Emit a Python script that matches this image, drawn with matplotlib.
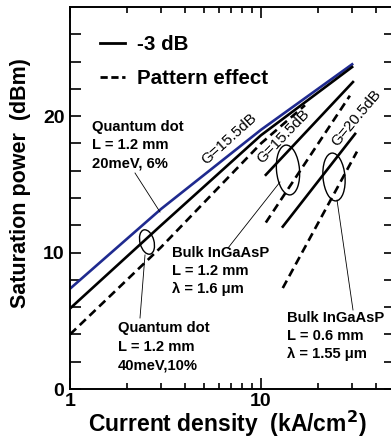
import matplotlib
matplotlib.use("Agg")
import matplotlib.pyplot as plt
from matplotlib.lines import Line2D
from matplotlib.patches import Ellipse
from matplotlib.ticker import FixedLocator, NullFormatter

plt.rcParams['font.family'] = ['Liberation Sans', 'DejaVu Sans']
plt.rcParams['font.weight'] = 'bold'

# Quantum dot, L = 1.2 mm, 20 meV 6% (-3 dB)
qd20_x = [1, 3, 10, 30]
qd20_y = [7.35, 13.2, 19.0, 23.8]
# Quantum dot, L = 1.2 mm, 40 meV 10% (-3 dB and pattern effect)
qd40_x = [1, 3, 10, 30]
qd40_y = [5.9, 12.0, 18.6, 23.6]
qd40_pe_x = [1, 3, 10, 17]
qd40_pe_y = [4.0, 10.4, 18.0, 20.8]
# Bulk InGaAsP, L = 1.2 mm
bulk12_x = [10.6, 30.3]
bulk12_y = [15.7, 22.5]
bulk12_pe_x = [10.6, 29.2]
bulk12_pe_y = [12.2, 21.5]
# Bulk InGaAsP, L = 0.6 mm
bulk06_x = [13.0, 31.1]
bulk06_y = [11.9, 18.7]
bulk06_pe_x = [13.0, 31.8]
bulk06_pe_y = [7.4, 17.4]

W, H = 391, 443
fig = plt.figure(figsize=(W / 100, H / 100), dpi=100)
ax = fig.add_axes([70 / W, (H - 389) / H, 324.5 / W, 382 / H])

lw = 1.9
dash = (3.2, 1.9)
ax.plot(qd20_x, qd20_y, color='#1f2a8f', lw=lw)
ax.plot(qd40_x, qd40_y, color='black', lw=lw)
ax.plot(qd40_pe_x, qd40_pe_y, color='black', lw=lw, ls=(0, dash))
ax.plot(bulk12_x, bulk12_y, color='black', lw=lw)
ax.plot(bulk12_pe_x, bulk12_pe_y, color='black', lw=lw, ls=(0, dash))
ax.plot(bulk06_x, bulk06_y, color='black', lw=lw)
ax.plot(bulk06_pe_x, bulk06_pe_y, color='black', lw=lw, ls=(0, dash))

ax.set_xscale('log')
ax.set_xlim(1, 50)
ax.set_ylim(0, 28)
ax.set_xticks([1, 10])
ax.set_xticklabels(['1', '10'])
ax.xaxis.set_minor_locator(FixedLocator([2, 3, 4, 5, 6, 7, 8, 9, 20, 30, 40]))
ax.xaxis.set_minor_formatter(NullFormatter())
ax.set_yticks([0, 10, 20])
ax.yaxis.set_minor_locator(FixedLocator([2, 4, 6, 8, 12, 14, 16, 18, 22, 24, 26]))
ax.tick_params(which='both', direction='in', top=True, right=True, width=1.2,
               labelsize=14)
ax.tick_params(axis='x', which='major', length=8, pad=3)
ax.tick_params(axis='x', which='minor', length=4.5)
ax.tick_params(axis='y', which='both', length=8, pad=4)
for lab in ax.get_xticklabels() + ax.get_yticklabels():
    lab.set_fontweight('bold')
for s in ax.spines.values():
    s.set_linewidth(1.4)

ax.set_xlabel('Current density  (kA/cm$^\\mathbf{2}$)', fontsize=16.5, fontweight='bold')
ax.xaxis.set_label_coords(0.484, -0.052)
ax.set_ylabel('Saturation power  (dBm)', fontsize=15.5, fontweight='bold')
ax.yaxis.set_label_coords(-0.12, 0.539)

handles = [Line2D([], [], color='black', lw=2),
           Line2D([], [], color='black', lw=2, ls=(0, (2.6, 1.3)))]
ax.legend(handles, ['-3 dB', 'Pattern effect'], loc='upper left', frameon=False,
          bbox_to_anchor=(0.068, 0.948), prop={'size': 14.8, 'weight': 'bold'},
          handlelength=1.22, handletextpad=0.58, labelspacing=0.73, borderaxespad=0)


def fx(x):
    return x / W


def fy(y):
    return 1 - y / H


tk = dict(fontsize=10.6, fontweight='bold', va='center', ha='left')
fig.text(fx(92), fy(127), 'Quantum dot', **tk)
fig.text(fx(92), fy(145), 'L = 1.2 mm', **tk)
fig.text(fx(92), fy(163), '20meV, 6%', **tk)

fig.text(fx(118), fy(328), 'Quantum dot', **tk)
fig.text(fx(118), fy(347), 'L = 1.2 mm', **tk)
fig.text(fx(118), fy(366), '40meV,10%', **tk)

fig.text(fx(172), fy(253), 'Bulk InGaAsP', **tk)
fig.text(fx(172), fy(271), 'L = 1.2 mm', **tk)
fig.text(fx(172), fy(289), '\u03bb = 1.6 \u03bcm', **tk)

fig.text(fx(287), fy(318), 'Bulk InGaAsP', **tk)
fig.text(fx(287), fy(336), 'L = 0.6 mm', **tk)
fig.text(fx(287), fy(354), '\u03bb = 1.55 \u03bcm', **tk)

gk = dict(fontsize=11, fontweight='normal', ha='center', va='center', rotation_mode='anchor')
fig.text(fx(229), fy(139), 'G=15.5dB', rotation=42, **gk)
fig.text(fx(283), fy(136), 'G=15.5dB', rotation=46, **gk)
fig.text(fx(356), fy(118), 'G=20.5dB', rotation=50, **gk)

# leader lines (pixel coords from top-left)
leaders = [((135, 173), (160, 212)),
           ((145, 255), (140, 318)),
           ((280, 182), (228, 248)),
           ((337, 200), (353, 310))]
for (x0, y0), (x1, y1) in leaders:
    fig.add_artist(Line2D([fx(x0), fx(x1)], [fy(y0), fy(y1)], color='black',
                          lw=0.6, transform=fig.transFigure))

ellipses = [((147, 242), 14, 25, 15),
            ((288, 170), 23, 50, 5),
            ((334, 177), 22, 48, 5)]
for (cx, cy), w, h, ang in ellipses:
    fig.add_artist(Ellipse((cx / 100, (H - cy) / 100), w / 100, h / 100, angle=ang,
                           fill=False, ec='black', lw=1.0, transform=fig.dpi_scale_trans))

fig.savefig('out.png', dpi=100)
